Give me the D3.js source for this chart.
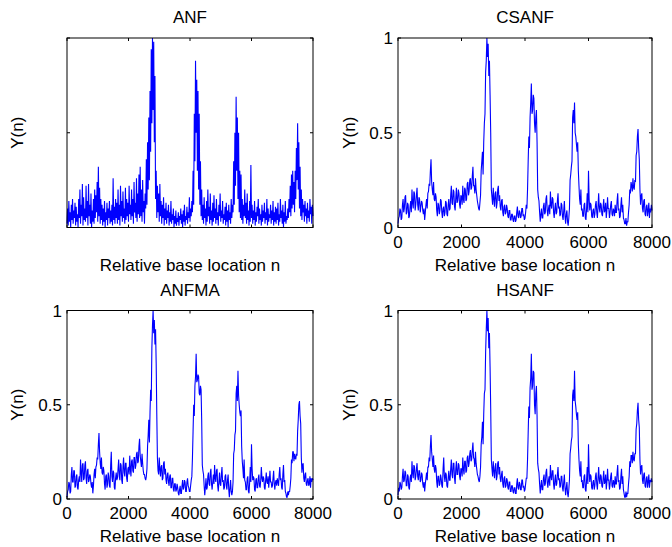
<!DOCTYPE html>
<html><head><meta charset="utf-8">
<script src="https://cdn.jsdelivr.net/npm/d3@7"></script>
<style>
body{margin:0;background:#fff}
svg{display:block}
text{font-family:"Liberation Sans",Arial,Helvetica,sans-serif;fill:#000}
</style>
</head><body>
<svg id="c" width="672" height="547"></svg>
<script>
// ---------- data ----------
const titles = ["ANF", "CSANF", "ANFMA", "HSANF"];
const xTicks = [0, 2000, 4000, 6000, 8000];
const xTickLabels = ["0", "2000", "4000", "6000", "8000"];
const yTicks = [0, 0.5, 1];
const yTickLabels = ["0", "0.5", "1"];
const xLabel = "Relative base location n";
const yLabel = "Y(n)";

const step = 20; // spacing of samples along n
const anf = [
0.02,0.10,0.01,0.14,0.03,0.08,0.00,0.12,0.04,0.15,0.02,0.09,0.05,0.13,0.01,0.11,0.03,0.07,0.00,0.15,
0.05,0.20,0.02,0.12,0.06,0.23,0.01,0.16,0.04,0.10,0.03,0.22,0.05,0.14,0.01,0.23,0.06,0.12,0.02,0.18,
0.00,0.09,0.03,0.15,0.02,0.20,0.05,0.17,0.08,0.24,0.03,0.32,0.06,0.21,0.02,0.15,0.04,0.12,0.01,0.10,
0.03,0.14,0.00,0.08,0.04,0.13,0.01,0.10,0.05,0.14,0.02,0.09,0.03,0.12,0.01,0.26,0.04,0.11,0.02,0.15,
0.05,0.13,0.02,0.20,0.04,0.12,0.01,0.22,0.06,0.14,0.03,0.19,0.05,0.10,0.02,0.21,0.04,0.15,0.06,0.13,
0.03,0.22,0.07,0.12,0.04,0.20,0.06,0.15,0.02,0.24,0.08,0.13,0.05,0.26,0.03,0.18,0.07,0.28,0.05,0.32,
0.06,0.20,0.03,0.25,0.08,0.14,0.02,0.18,0.10,0.36,0.12,0.45,0.20,0.58,0.25,0.72,0.40,0.94,0.55,1.00,
0.62,0.98,0.45,0.80,0.15,0.30,0.05,0.22,0.08,0.18,0.03,0.23,0.06,0.14,0.02,0.12,0.05,0.16,0.01,0.10,
0.04,0.13,0.02,0.09,0.05,0.12,0.01,0.08,0.03,0.14,0.02,0.07,0.04,0.10,0.00,0.06,0.02,0.09,0.01,0.05,
0.03,0.08,0.01,0.06,0.04,0.10,0.02,0.07,0.00,0.09,0.03,0.12,0.01,0.06,0.04,0.11,0.02,0.08,0.05,0.16,
0.03,0.10,0.06,0.14,0.08,0.30,0.12,0.60,0.35,0.88,0.50,0.78,0.30,0.72,0.20,0.60,0.12,0.35,0.06,0.20,
0.04,0.12,0.02,0.16,0.05,0.10,0.01,0.14,0.03,0.20,0.06,0.11,0.02,0.18,0.04,0.09,0.01,0.13,0.03,0.17,
0.05,0.10,0.02,0.15,0.04,0.08,0.01,0.12,0.06,0.18,0.03,0.09,0.05,0.14,0.02,0.07,0.04,0.11,0.01,0.13,
0.03,0.09,0.00,0.12,0.04,0.08,0.02,0.15,0.05,0.12,0.08,0.35,0.12,0.50,0.22,0.69,0.30,0.58,0.15,0.50,
0.08,0.30,0.05,0.28,0.04,0.15,0.02,0.12,0.06,0.20,0.05,0.13,0.02,0.18,0.04,0.09,0.01,0.14,0.03,0.33,
0.05,0.12,0.02,0.09,0.04,0.14,0.01,0.08,0.03,0.11,0.06,0.15,0.02,0.10,0.04,0.07,0.01,0.12,0.03,0.09,
0.05,0.13,0.02,0.08,0.04,0.15,0.01,0.10,0.03,0.07,0.05,0.12,0.02,0.09,0.04,0.14,0.01,0.08,0.03,0.11,
0.02,0.10,0.04,0.13,0.01,0.07,0.03,0.15,0.05,0.09,0.02,0.12,0.00,0.08,0.03,0.14,0.02,0.06,0.04,0.10,
0.05,0.15,0.08,0.22,0.06,0.28,0.10,0.30,0.12,0.24,0.08,0.30,0.15,0.42,0.25,0.55,0.20,0.45,0.10,0.32,
0.06,0.20,0.04,0.15,0.08,0.12,0.03,0.14,0.06,0.10,0.02,0.13,0.05,0.09,0.03,0.15,0.07,0.11,0.02,0.12,
0.06
];

const csanf = [
0.02,0.05,0.06,0.10,0.09,0.04,0.05,0.12,0.15,0.08,0.10,0.16,0.17,0.07,0.08,0.13,0.12,0.05,0.06,0.11,
0.14,0.08,0.20,0.13,0.10,0.19,0.18,0.09,0.12,0.17,0.21,0.12,0.09,0.16,0.15,0.08,0.11,0.14,0.13,0.09,
0.07,0.10,0.04,0.08,0.12,0.15,0.10,0.18,0.19,0.23,0.22,0.30,0.36,0.24,0.20,0.17,0.24,0.15,0.14,0.18,
0.16,0.09,0.06,0.13,0.12,0.07,0.09,0.15,0.14,0.08,0.05,0.10,0.11,0.06,0.08,0.14,0.13,0.07,0.06,0.12,
0.15,0.09,0.10,0.17,0.22,0.13,0.12,0.20,0.19,0.11,0.09,0.16,0.21,0.13,0.14,0.20,0.18,0.12,0.10,0.17,
0.16,0.12,0.22,0.15,0.13,0.21,0.20,0.14,0.15,0.23,0.24,0.17,0.19,0.25,0.26,0.20,0.21,0.27,0.32,0.22,
0.22,0.18,0.26,0.20,0.17,0.14,0.12,0.10,0.09,0.13,0.17,0.30,0.35,0.40,0.28,0.45,0.55,0.60,0.82,0.88,
1.00,0.90,0.97,0.80,0.88,0.70,0.50,0.20,0.16,0.12,0.21,0.15,0.11,0.18,0.19,0.10,0.13,0.20,0.22,0.14,
0.17,0.11,0.09,0.14,0.15,0.08,0.06,0.11,0.12,0.07,0.08,0.12,0.10,0.06,0.05,0.09,0.09,0.04,0.04,0.07,
0.07,0.04,0.03,0.06,0.06,0.03,0.04,0.08,0.11,0.06,0.05,0.09,0.08,0.05,0.06,0.10,0.10,0.06,0.07,0.04,
0.05,0.08,0.12,0.10,0.20,0.35,0.48,0.42,0.58,0.66,0.76,0.60,0.62,0.70,0.68,0.55,0.50,0.58,0.62,0.45,
0.20,0.16,0.14,0.08,0.03,0.07,0.10,0.05,0.05,0.11,0.13,0.07,0.08,0.15,0.17,0.09,0.06,0.10,0.12,0.07,
0.19,0.12,0.10,0.16,0.15,0.08,0.05,0.10,0.13,0.07,0.08,0.14,0.18,0.10,0.11,0.06,0.07,0.13,0.12,0.06,
0.04,0.09,0.14,0.06,0.02,0.07,0.09,0.03,0.01,0.05,0.10,0.25,0.28,0.32,0.35,0.58,0.62,0.55,0.66,0.50,
0.48,0.44,0.40,0.45,0.30,0.22,0.15,0.12,0.20,0.09,0.10,0.06,0.06,0.12,0.13,0.05,0.04,0.10,0.18,0.08,
0.30,0.15,0.09,0.13,0.12,0.06,0.05,0.09,0.10,0.05,0.07,0.12,0.14,0.08,0.05,0.11,0.18,0.10,0.08,0.13,
0.12,0.07,0.06,0.11,0.15,0.08,0.09,0.13,0.05,0.09,0.16,0.10,0.10,0.05,0.08,0.12,0.14,0.07,0.06,0.10,
0.09,0.06,0.12,0.08,0.08,0.14,0.18,0.09,0.10,0.05,0.06,0.12,0.16,0.08,0.12,0.05,0.04,0.02,0.02,0.05,
0.01,0.03,0.03,0.08,0.12,0.20,0.18,0.24,0.22,0.19,0.26,0.21,0.20,0.25,0.24,0.38,0.40,0.48,0.52,0.42,
0.36,0.20,0.12,0.17,0.18,0.10,0.08,0.14,0.15,0.07,0.06,0.11,0.12,0.06,0.09,0.13,0.05,0.10,0.08,0.12,
0.09
];

const anfma = [
0.01,0.04,0.05,0.09,0.08,0.03,0.04,0.13,0.17,0.09,0.09,0.15,0.15,0.06,0.07,0.12,0.13,0.06,0.05,0.10,
0.12,0.09,0.21,0.14,0.09,0.18,0.19,0.10,0.11,0.18,0.20,0.11,0.08,0.15,0.16,0.09,0.10,0.13,0.12,0.08,
0.06,0.09,0.03,0.07,0.13,0.16,0.11,0.17,0.18,0.22,0.21,0.29,0.35,0.25,0.19,0.16,0.22,0.14,0.13,0.17,
0.15,0.08,0.05,0.12,0.13,0.06,0.08,0.14,0.12,0.07,0.06,0.18,0.25,0.12,0.09,0.15,0.14,0.06,0.05,0.11,
0.14,0.10,0.11,0.16,0.21,0.12,0.10,0.19,0.18,0.10,0.08,0.17,0.22,0.14,0.12,0.19,0.19,0.11,0.09,0.16,
0.17,0.13,0.23,0.16,0.12,0.20,0.21,0.15,0.14,0.22,0.22,0.16,0.18,0.24,0.25,0.19,0.20,0.28,0.32,0.23,
0.20,0.17,0.24,0.19,0.15,0.13,0.13,0.11,0.10,0.12,0.16,0.28,0.34,0.42,0.30,0.46,0.58,0.52,0.80,0.92,
1.00,0.88,0.95,0.82,0.90,0.72,0.45,0.22,0.15,0.13,0.22,0.16,0.12,0.17,0.18,0.10,0.11,0.19,0.20,0.13,
0.16,0.10,0.08,0.13,0.14,0.09,0.07,0.12,0.13,0.06,0.06,0.11,0.11,0.05,0.04,0.08,0.08,0.04,0.05,0.08,
0.06,0.03,0.02,0.05,0.07,0.03,0.03,0.07,0.10,0.05,0.06,0.10,0.09,0.04,0.04,0.09,0.11,0.07,0.06,0.04,
0.04,0.07,0.10,0.12,0.22,0.36,0.50,0.44,0.60,0.65,0.77,0.62,0.63,0.66,0.65,0.56,0.55,0.60,0.58,0.42,
0.18,0.15,0.13,0.07,0.02,0.06,0.11,0.05,0.06,0.12,0.14,0.08,0.07,0.14,0.16,0.08,0.05,0.09,0.13,0.08,
0.18,0.11,0.09,0.15,0.16,0.07,0.04,0.09,0.14,0.08,0.07,0.13,0.17,0.09,0.10,0.05,0.06,0.12,0.13,0.07,
0.05,0.10,0.13,0.05,0.01,0.06,0.10,0.04,0.02,0.04,0.09,0.24,0.26,0.34,0.36,0.56,0.60,0.52,0.68,0.55,
0.50,0.46,0.44,0.47,0.28,0.20,0.16,0.11,0.21,0.10,0.09,0.05,0.05,0.11,0.12,0.04,0.03,0.09,0.17,0.09,
0.29,0.16,0.10,0.12,0.11,0.05,0.04,0.10,0.11,0.06,0.06,0.11,0.13,0.07,0.06,0.10,0.17,0.11,0.09,0.12,
0.11,0.06,0.05,0.10,0.14,0.09,0.08,0.12,0.06,0.10,0.15,0.09,0.09,0.06,0.07,0.11,0.15,0.08,0.05,0.09,
0.10,0.07,0.11,0.09,0.07,0.13,0.17,0.10,0.11,0.06,0.05,0.13,0.18,0.09,0.10,0.04,0.03,0.01,0.01,0.04,
0.02,0.04,0.04,0.07,0.11,0.21,0.19,0.25,0.25,0.20,0.24,0.22,0.21,0.24,0.23,0.36,0.42,0.50,0.52,0.44,
0.40,0.22,0.14,0.18,0.19,0.11,0.09,0.13,0.14,0.08,0.07,0.10,0.11,0.07,0.08,0.12,0.06,0.11,0.09,0.11,
0.10
];

const hsanf = [
0.02,0.06,0.04,0.09,0.08,0.05,0.06,0.12,0.16,0.09,0.10,0.15,0.14,0.07,0.07,0.13,0.12,0.06,0.05,0.11,
0.13,0.09,0.20,0.14,0.11,0.18,0.17,0.10,0.12,0.16,0.19,0.12,0.10,0.15,0.15,0.09,0.10,0.14,0.13,0.08,
0.06,0.09,0.04,0.08,0.11,0.14,0.10,0.17,0.17,0.22,0.20,0.28,0.34,0.25,0.21,0.17,0.23,0.16,0.14,0.18,
0.16,0.09,0.06,0.12,0.12,0.07,0.08,0.13,0.11,0.07,0.06,0.16,0.22,0.12,0.09,0.14,0.13,0.07,0.06,0.11,
0.15,0.10,0.10,0.16,0.21,0.13,0.11,0.19,0.19,0.11,0.08,0.16,0.20,0.13,0.13,0.19,0.18,0.12,0.10,0.16,
0.16,0.12,0.22,0.16,0.13,0.20,0.20,0.14,0.15,0.22,0.23,0.17,0.19,0.24,0.26,0.20,0.21,0.26,0.30,0.22,
0.21,0.17,0.25,0.19,0.16,0.13,0.12,0.10,0.09,0.12,0.17,0.29,0.33,0.41,0.29,0.45,0.56,0.58,0.78,0.90,
1.00,0.89,0.96,0.80,0.88,0.70,0.48,0.21,0.16,0.12,0.20,0.15,0.11,0.17,0.19,0.10,0.12,0.19,0.20,0.13,
0.17,0.11,0.09,0.13,0.15,0.08,0.06,0.11,0.12,0.06,0.07,0.11,0.10,0.06,0.05,0.09,0.09,0.04,0.04,0.07,
0.07,0.04,0.03,0.06,0.06,0.03,0.03,0.08,0.11,0.06,0.05,0.09,0.08,0.05,0.05,0.10,0.10,0.06,0.07,0.04,
0.05,0.08,0.11,0.11,0.21,0.35,0.49,0.43,0.59,0.64,0.77,0.58,0.60,0.68,0.67,0.50,0.45,0.56,0.60,0.44,
0.19,0.16,0.14,0.08,0.03,0.07,0.10,0.05,0.05,0.11,0.13,0.07,0.08,0.14,0.16,0.09,0.06,0.10,0.12,0.07,
0.18,0.12,0.10,0.15,0.15,0.08,0.05,0.10,0.13,0.07,0.08,0.13,0.17,0.10,0.11,0.06,0.07,0.12,0.12,0.06,
0.04,0.09,0.13,0.06,0.02,0.06,0.09,0.03,0.01,0.05,0.10,0.24,0.27,0.31,0.33,0.55,0.58,0.52,0.68,0.52,
0.49,0.45,0.42,0.46,0.29,0.21,0.15,0.12,0.20,0.09,0.10,0.06,0.06,0.12,0.13,0.05,0.04,0.10,0.17,0.08,
0.29,0.15,0.09,0.13,0.12,0.06,0.05,0.09,0.10,0.05,0.07,0.12,0.14,0.08,0.05,0.11,0.17,0.10,0.08,0.13,
0.12,0.07,0.06,0.11,0.15,0.08,0.09,0.13,0.05,0.09,0.16,0.10,0.10,0.05,0.08,0.12,0.14,0.07,0.06,0.10,
0.09,0.06,0.12,0.08,0.08,0.14,0.18,0.09,0.10,0.05,0.06,0.12,0.16,0.08,0.12,0.05,0.03,0.01,0.01,0.04,
0.01,0.03,0.03,0.08,0.12,0.20,0.17,0.23,0.23,0.19,0.25,0.21,0.20,0.24,0.24,0.37,0.40,0.47,0.51,0.42,
0.38,0.21,0.13,0.17,0.18,0.10,0.08,0.13,0.14,0.07,0.06,0.11,0.12,0.06,0.09,0.13,0.06,0.10,0.09,0.11,
0.09
];

// ---------- layout ----------
const svg = d3.select("#c");
const boxes = [
  {x0: 67, x1: 313, y0: 38, y1: 227.5},
  {x0: 398, x1: 652, y0: 38, y1: 227.5},
  {x0: 67, x1: 313, y0: 310.5, y1: 499},
  {x0: 398, x1: 652, y0: 310.5, y1: 499}
];
const seriesList = [
  {values: anf, labels: false},
  {values: csanf, labels: true},
  {values: anfma, labels: true},
  {values: hsanf, labels: true}
];
const FS = 17;
const TL = 3;

boxes.forEach((b, k) => {
  const s = seriesList[k];
  const x = d3.scaleLinear().domain([0, 8000]).range([b.x0, b.x1]);
  const y = d3.scaleLinear().domain([0, 1]).range([b.y1, b.y0]);
  const g = svg.append("g");

  const line = d3.line().x((d, i) => x(i * step)).y(d => y(d));
  g.append("path").datum(s.values)
    .attr("d", line)
    .attr("fill", "none")
    .attr("stroke", "#0000ff")
    .attr("stroke-width", 1.1);

  g.append("rect")
    .attr("x", b.x0).attr("y", b.y0)
    .attr("width", b.x1 - b.x0).attr("height", b.y1 - b.y0)
    .attr("fill", "none").attr("stroke", "#000").attr("stroke-width", 1);

  xTicks.forEach(t => {
    const xx = x(t);
    g.append("line").attr("x1", xx).attr("x2", xx).attr("y1", b.y1).attr("y2", b.y1 - TL).attr("stroke", "#000");
    g.append("line").attr("x1", xx).attr("x2", xx).attr("y1", b.y0).attr("y2", b.y0 + TL).attr("stroke", "#000");
  });
  yTicks.forEach(t => {
    const yy = y(t);
    g.append("line").attr("y1", yy).attr("y2", yy).attr("x1", b.x0).attr("x2", b.x0 + TL).attr("stroke", "#000");
    g.append("line").attr("y1", yy).attr("y2", yy).attr("x1", b.x1).attr("x2", b.x1 - TL).attr("stroke", "#000");
  });

  if (s.labels) {
    xTicks.forEach((t, i) => {
      g.append("text").attr("x", x(t)).attr("y", b.y1 + 20)
        .attr("text-anchor", "middle").attr("font-size", FS).text(xTickLabels[i]);
    });
    yTicks.forEach((t, i) => {
      g.append("text").attr("x", b.x0 - 5).attr("y", y(t) + 6)
        .attr("text-anchor", "end").attr("font-size", FS).text(yTickLabels[i]);
    });
  }

  g.append("text").attr("x", (b.x0 + b.x1) / 2).attr("y", b.y0 - 15)
    .attr("text-anchor", "middle").attr("font-size", FS).text(titles[k]);

  g.append("text").attr("x", (b.x0 + b.x1) / 2).attr("y", b.y1 + 43)
    .attr("text-anchor", "middle").attr("font-size", FS).text(xLabel);

  const ylx = k % 2 === 0 ? 23 : 355;
  g.append("text")
    .attr("transform", `translate(${ylx},${(b.y0 + b.y1) / 2}) rotate(-90)`)
    .attr("text-anchor", "middle").attr("font-size", FS).text(yLabel);
});
</script>
</body></html>
